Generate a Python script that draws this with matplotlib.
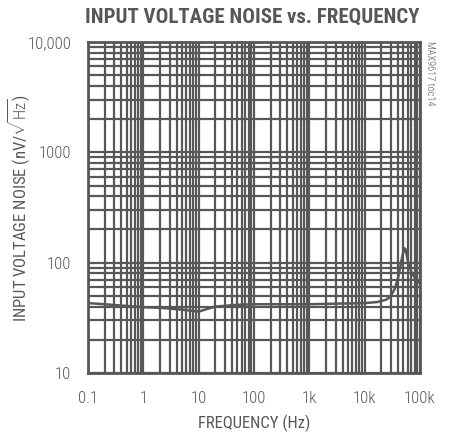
import matplotlib
matplotlib.use("Agg")
import matplotlib.pyplot as plt
from matplotlib.ticker import FixedLocator, LogLocator, NullFormatter

freq_hz = [0.1, 0.2, 0.5, 1, 2, 5, 8, 10, 13, 20, 50, 100, 300, 1000, 3000, 10000,
           17000, 24000, 29000, 35000, 40000, 44000, 48000, 52000, 55000, 60000, 70000, 85000, 100000]
noise_nv = [43, 42, 40.5, 39.5, 39, 37.5, 36.5, 36, 37.5, 40, 41.5, 42, 42, 42, 42.5, 43,
            44, 46, 49, 58, 72, 92, 115, 135, 132, 105, 82, 70, 65]

x_ticks = [0.1, 1, 10, 100, 1000, 10000, 100000]
x_labels = ["0.1", "1", "10", "100", "1k", "10k", "100k"]
y_ticks = [10, 100, 1000, 10000]
y_labels = ["10", "100", "1000", "10,000"]

GRAY = "#575757"
FONT = ["Roboto Condensed", "DejaVu Sans"]
plt.rcParams["font.family"] = FONT
plt.rcParams["font.weight"] = 300
plt.rcParams["mathtext.fontset"] = "custom"
plt.rcParams["mathtext.rm"] = "Roboto Condensed:light"

fig = plt.figure(figsize=(4.49, 4.36), dpi=100)
ax = fig.add_axes([88/449, 1-373/436, (420-88)/449, (373-42)/436])
ax.set_xscale("log")
ax.set_yscale("log")
ax.set_xlim(0.1, 100000)
ax.set_ylim(10, 10000)

ax.xaxis.set_major_locator(FixedLocator(x_ticks))
ax.set_xticklabels(x_labels)
ax.yaxis.set_major_locator(FixedLocator(y_ticks))
ax.set_yticklabels(y_labels)
ax.xaxis.set_minor_locator(LogLocator(base=10, subs=range(2, 10), numticks=50))
ax.yaxis.set_minor_locator(LogLocator(base=10, subs=range(2, 10), numticks=50))
ax.xaxis.set_minor_formatter(NullFormatter())
ax.yaxis.set_minor_formatter(NullFormatter())

ax.grid(True, which="both", color=GRAY, linewidth=1.6)
ax.tick_params(which="both", length=0, labelsize=12, labelcolor=GRAY)
ax.tick_params(axis="y", pad=12)
ax.tick_params(axis="x", pad=13)
for s in ax.spines.values():
    s.set_color(GRAY)
    s.set_linewidth(2)

ax.plot(freq_hz, noise_nv, color=GRAY, linewidth=1.8)

ax.set_xlabel("FREQUENCY (Hz)", fontsize=12, color=GRAY)
ax.set_ylabel(r"INPUT VOLTAGE NOISE (nV/$\sqrt{\mathrm{Hz}}$)", fontsize=12, color=GRAY)
ax.xaxis.set_label_coords(0.5, -0.125)
ax.yaxis.set_label_coords(-0.17, 0.5)

fig.text(252/449, 1-17/436, "INPUT VOLTAGE NOISE vs. FREQUENCY", ha="center", va="center",
         fontsize=15, fontweight="black", color=GRAY, family=FONT)
fig.text(430/449, 1-73/436, "MAX9617 toc14", rotation=270, ha="center", va="center",
         fontsize=7.5, color=GRAY, family=FONT)

fig.savefig("out.png", dpi=100)
